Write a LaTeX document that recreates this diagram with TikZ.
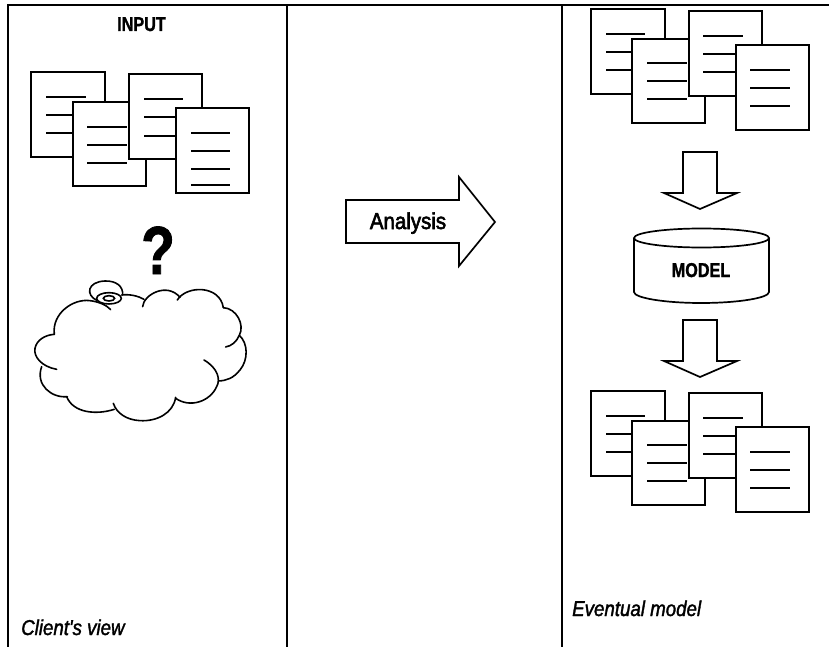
\documentclass[tikz,border=0pt]{standalone}
\usepackage{fontspec}
\setmainfont{Liberation Sans}
\newfontfamily\narrowbold[FakeStretch=0.81,FakeBold=1.2]{Liberation Sans Bold}
\newfontfamily\narrowreg[FakeStretch=0.89,FakeBold=2.5]{Liberation Sans}
\newfontfamily\narrowital[FakeStretch=0.87,FakeBold=1.6]{Liberation Sans Italic}
\tikzset{
  frameline/.style={draw=black,line width=2.2pt},
  sheet/.style={draw=black,fill=white,line width=2pt,line join=miter},
  rule/.style={draw=black,line width=1.7pt},
  outline/.style={draw=black,fill=white,line width=1.7pt,line join=miter},
  cloudline/.style={draw=black,line width=1.6pt,line cap=round},
  boldlabel/.style={inner sep=0pt,anchor=base,font=\narrowbold\fontsize{20}{20}\selectfont},
  plainlabel/.style={inner sep=0pt,anchor=base,font=\narrowreg\fontsize{23}{23}\selectfont},
  itallabel/.style={inner sep=0pt,anchor=base west,font=\narrowital\fontsize{21.5}{21.5}\selectfont}
}
% #1 x-left #2 y-top #3 width #4 height #5 rule x-left #6 rule width #7 list of rule y
\newcommand{\drawsheet}[7]{%
  \path[sheet] (#1,#2) rectangle ++(#3,#4);
  \foreach \ry in {#7} {\path[rule] (#5,\ry) -- ++(#6,0);}
}
\newcommand{\sheetstack}[1]{%
  \begin{scope}[yshift=-#1pt]
    \drawsheet{591}{9}{74}{85}{606}{39}{34,52,70}
    \drawsheet{632}{39}{73}{84}{647}{40}{63,81,99}
    \drawsheet{689}{11}{73}{85}{703}{40}{36,54,72}
    \drawsheet{736}{45}{73}{85}{750}{40}{70,88,106}
  \end{scope}
}
\newcommand{\downarrowshape}[1]{%
  \path[outline] (683,#1) -- ++(34,0) -- ++(0,41) -- ++(20,0) -- ++(-37,16) -- ++(-36,-16) -- ++(19,0) -- cycle;
}
\begin{document}
\begin{tikzpicture}[x=1pt,y=-1pt]
\useasboundingbox (0,0) rectangle (829,647);
\fill[white] (0,0) rectangle (829,647);
% frame
\path[frameline] (8,647) -- (8,5) -- (829,5);
\path[frameline] (287,5) -- (287,647);
\path[frameline] (562,5) -- (562,647);
% left stack
\drawsheet{31}{72}{74}{85}{46}{40}{97,115,133}
\drawsheet{73}{102}{73}{84}{87}{40}{127,145,163}
\drawsheet{129}{74}{73}{85}{144}{39}{99,117,136}
\drawsheet{176}{108}{73}{85}{191}{39}{133,151,169,185}
\node[boldlabel] (input) at (141.5,31) {INPUT};
\node[inner sep=0pt,anchor=base,font=\narrowbold\fontsize{68}{68}\selectfont] (question) at (158,274) {?};
% cloud
\begin{scope}[shift={(10,210)},x=0.3333pt,y=-0.3333pt]
\path[cloudline] (133,373) .. controls (125,310) and (190,265) .. (240,272) .. controls (265,275) and (290,285) .. (302,299);
\path[cloudline] (335,255) .. controls (360,252) and (385,258) .. (402,268);
\path[cloudline] (398,290) .. controls (400,255) and (470,215) .. (510,262);
\path[cloudline] (502,270) .. controls (530,225) and (630,225) .. (640,293);
\path[cloudline] (640,293) .. controls (680,295) and (705,345) .. (688,376) .. controls (680,395) and (665,408) .. (647,411);
\path[cloudline] (688,376) .. controls (715,400) and (715,450) .. (690,480) .. controls (670,505) and (650,512) .. (625,513);
\path[cloudline] (582,450) .. controls (625,475) and (632,510) .. (620,530) .. controls (600,575) and (540,595) .. (497,565);
\path[cloudline] (497,562) .. controls (490,610) and (440,635) .. (390,632) .. controls (350,630) and (320,610) .. (310,580);
\path[cloudline] (313,598) .. controls (260,615) and (190,610) .. (170,560);
\path[cloudline] (172,560) .. controls (125,565) and (75,525) .. (95,470);
\path[cloudline] (140,478) .. controls (95,470) and (70,440) .. (75,415) .. controls (80,390) and (105,375) .. (133,373);
% swirl
\path[cloudline] (262,272) .. controls (225,255) and (232,215) .. (285,213) .. controls (320,212) and (340,230) .. (338,255);
\path[cloudline] (297,265) ellipse [x radius=37,y radius=17];
\path[cloudline] (297,265) ellipse [x radius=17,y radius=8];
\end{scope}
\node[itallabel] (clientview) at (21,635) {Client's view};
% analysis arrow
\path[outline] (346,200) -- (459,200) -- (459,177) -- (495,222) -- (459,266) -- (459,243) -- (346,243) -- cycle;
\node[plainlabel] (analysis) at (408,229) {Analysis};
% right column
\sheetstack{0}
\downarrowshape{152}
\path[outline] (634,238) -- (634,292) .. controls (634,298) and (665,303) .. (701,303) .. controls (738,303) and (769,298) .. (769,292) -- (769,238);
\path[outline] (701.5,238) ellipse [x radius=67.5,y radius=9.5];
\node[boldlabel] (model) at (701,277) {MODEL};
\downarrowshape{320}
\sheetstack{382}
\node[itallabel] (eventual) at (572,616) {Eventual model};
\end{tikzpicture}
\end{document}
